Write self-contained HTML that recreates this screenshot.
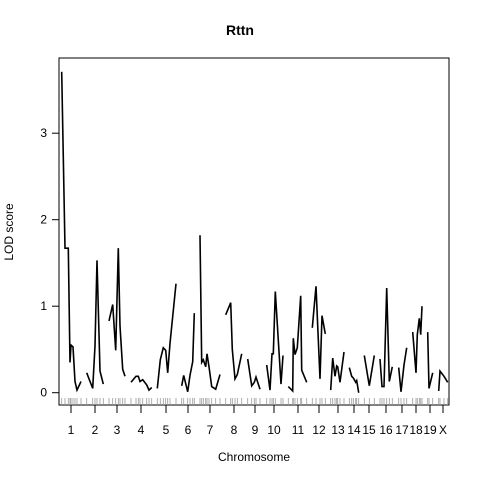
<!DOCTYPE html>
<html><head><meta charset="utf-8"><style>
body{margin:0;background:#fff}
svg text{font-family:"Liberation Sans",sans-serif;font-size:12px;fill:#000}
</style></head><body>
<svg id="chart" width="480" height="480" xmlns="http://www.w3.org/2000/svg">
<rect x="59" y="58" width="390" height="347" fill="none" stroke="#000" stroke-width="1"/>
<text x="240" y="35" text-anchor="middle" style="font-weight:bold;font-size:14px">Rttn</text>
<text x="254" y="461" text-anchor="middle">Chromosome</text>
<text x="13" y="232" text-anchor="middle" transform="rotate(-90 13 232)">LOD score</text>
<g id="g"></g>
</svg>
<script>
const chrNames=["1","2","3","4","5","6","7","8","9","10","11","12","13","14","15","16","17","18","19","X"];
const chrLabelPos=[12,36,58,82,107,129,151,175,196,215,239,260,279,295,310,327,343,357,371,384];
const chrPos=[
[2.7,6,9.3,11,12,14,16,18,22],
[27.7,33.7,36,38,41,44.3],
[50,53.7,56.7,59.3,61,63.7,66],
[72,77,79.3,81,83.7,87.7,90,92.7],
[98.3,101.3,104.3,106.7,108.7,111,117],
[122.7,124.7,128.7,131,133.7,135.3],
[141,142.7,144.3,146.7,148,150,152.7,156.7,161],
[166.7,171.7,173.3,176,178.3,182.7],
[188.7,192.7,195.3,197,201],
[207.7,211,213,214.3,216.3,222,224],
[229.3,233.7,234.3,236,238.3,241.7,242.7,247.7],
[253.3,257,261,263,266.3],
[271.7,273.7,276,277.7,278.7,281,285],
[290.3,292.7,294.3,296.7,297.7,299.7],
[305.3,310.3,315.3],
[321,323,325,327.7,330.3,333.3],
[339.7,342,345,347.7],
[353.7,357,358.3,360.3,361.7,363],
[368.7,370,373.7],
[379.7,381,385,388.7]];
const chrLod=[
[3.71,1.67,1.67,0.35,0.55,0.53,0.13,0.03,0.13],
[0.23,0.05,0.54,1.53,0.25,0.10],
[0.83,1.02,0.49,1.67,0.77,0.27,0.19],
[0.12,0.19,0.19,0.13,0.15,0.09,0.03,0.06],
[0.05,0.38,0.52,0.49,0.23,0.57,1.26],
[0.08,0.20,0.01,0.20,0.36,0.92],
[1.82,0.35,0.38,0.30,0.45,0.30,0.07,0.04,0.21],
[0.90,1.04,0.50,0.16,0.21,0.45],
[0.39,0.08,0.12,0.18,0.04],
[0.32,0.03,0.45,0.45,1.17,0.10,0.43],
[0.07,0.02,0.63,0.44,0.52,1.12,0.26,0.12],
[0.75,1.23,0.16,0.89,0.68],
[0.03,0.40,0.19,0.31,0.30,0.12,0.47],
[0.29,0.19,0.17,0.12,0.14,0.00],
[0.43,0.08,0.43],
[0.39,0.07,0.07,1.21,0.13,0.30],
[0.29,0.01,0.32,0.52],
[0.70,0.23,0.67,0.86,0.67,1.00],
[0.70,0.05,0.23],
[0.02,0.25,0.19,0.12]];
const yTicks=[0,1,2,3];
const xS=v=>59+v*(390/390);
const yS=v=>392.7-v*86.5;
const g=document.getElementById('g');
const NS='http://www.w3.org/2000/svg';
function mk(t,a){const e=document.createElementNS(NS,t);for(const k in a)e.setAttribute(k,a[k]);g.appendChild(e);return e;}
yTicks.forEach(v=>{
 const l=mk('line',{x1:52,x2:59,y1:yS(v),y2:yS(v),stroke:'#000'});
 
 
 const t=mk('text',{x:47,y:yS(v)+4,'text-anchor':'end'});
 
 
 t.textContent=v;
});
chrNames.forEach((n,i)=>{
 const x=xS(chrLabelPos[i]);
 const l=mk('line',{x1:x,x2:x,y1:405,y2:413,stroke:'#000'});
 
 
 const t=mk('text',{x:x,y:434,'text-anchor':'middle'});
 
 
 t.textContent=n;
 chrPos[i].forEach(p=>{
  const r=mk('line',{x1:xS(p),x2:xS(p),y1:398,y2:405,stroke:'#999','stroke-width':0.8});
  
  
 });
 const pts=chrPos[i].map((p,j)=>xS(p).toFixed(1)+','+yS(chrLod[i][j]).toFixed(1)).join(' ');
 const pl=mk('polyline',{points:pts,fill:'none',stroke:'#000','stroke-width':1.6});
 
 
});
</script>
</body></html>
